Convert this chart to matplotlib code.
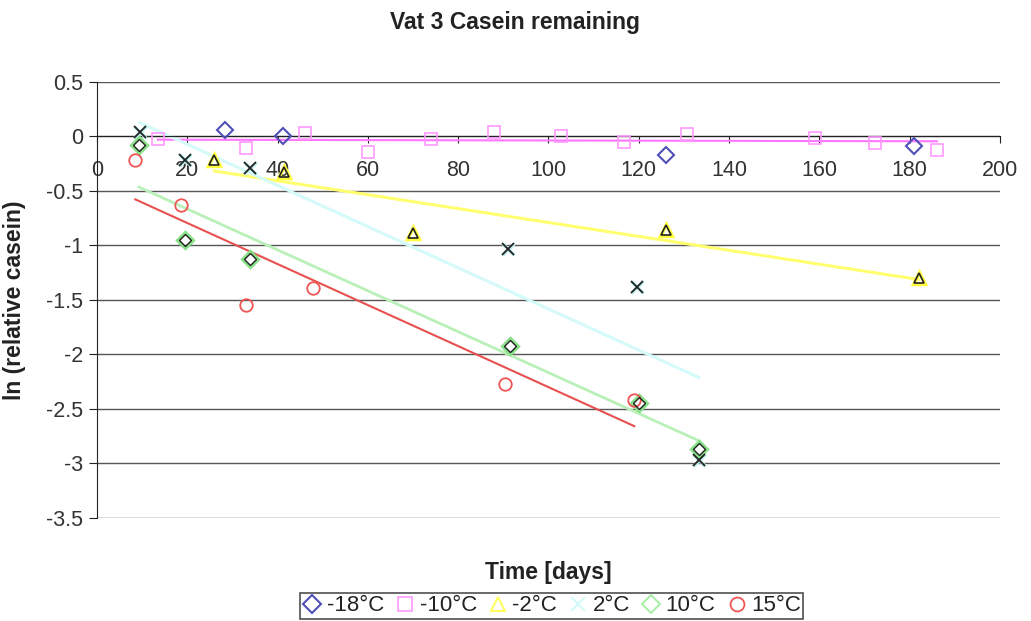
import numpy as np
import matplotlib
matplotlib.use("Agg")
import matplotlib.pyplot as plt
from matplotlib.lines import Line2D

plt.rcParams['font.family'] = ['Liberation Sans', 'DejaVu Sans']

# Storage time (days) and ln(relative casein) for each temperature
t_m18 = [28.4, 41.3, 126, 181]
y_m18 = [0.06, 0.00, -0.17, -0.09]

t_m10 = [13.5, 33, 46, 60, 74, 88, 102.7, 116.7, 130.7, 159, 172.4, 186]
y_m10 = [-0.02, -0.11, 0.03, -0.14, -0.02, 0.04, 0.0, -0.05, 0.02, -0.01, -0.06, -0.12]

t_m2 = [26, 41.5, 70, 126, 182]
y_m2 = [-0.22, -0.33, -0.89, -0.86, -1.30]

t_p2 = [9.5, 19.5, 34, 91, 119.6, 133.3]
y_p2 = [0.04, -0.22, -0.29, -1.03, -1.38, -2.97]

t_p10 = [9.3, 19.5, 34, 91.5, 120, 133.3]
y_p10 = [-0.08, -0.95, -1.12, -1.92, -2.45, -2.87]

t_p15 = [8.5, 18.7, 33, 47.8, 90.4, 119]
y_p15 = [-0.22, -0.63, -1.55, -1.39, -2.27, -2.42]

labels = ['-18°C', '-10°C', '-2°C', '2°C', '10°C', '15°C']
x_ticks = [0, 20, 40, 60, 80, 100, 120, 140, 160, 180, 200]
y_ticks = [0.5, 0, -0.5, -1, -1.5, -2, -2.5, -3, -3.5]

fig = plt.figure(figsize=(10.31, 6.21), dpi=100)
ax = fig.add_axes([0.094, 0.166, 0.876, 0.702])

ax.set_xlim(0, 200)
ax.set_ylim(-3.5, 0.5)

# horizontal gridlines
for yv in y_ticks:
    ax.axhline(yv, color='#555555', lw=1.0, zorder=1)

ax.spines['top'].set_visible(False)
ax.spines['right'].set_visible(False)
ax.spines['bottom'].set_position(('data', 0))
ax.spines['left'].set_color('#222222')
ax.spines['bottom'].set_color('#222222')

ax.set_xticks(x_ticks)
ax.set_yticks(y_ticks)
ax.set_yticklabels([('%g' % v) for v in y_ticks])
ax.tick_params(axis='x', direction='out', length=5, pad=12, labelsize=15.5,
               labelcolor='#333333', color='#222222')
ax.tick_params(axis='y', direction='out', length=6, pad=4, labelsize=15.5,
               labelcolor='#333333', color='#222222')

# linear trend lines over each series' own time range
def trend(t, y, color, lw=1.8):
    k, b = np.polyfit(t, y, 1)
    xs = np.array([min(t), max(t)])
    ax.plot(xs, k * xs + b, color=color, lw=lw, zorder=2)

trend(t_m10, y_m10, '#ff77ff', 1.5)
trend(t_m2, y_m2, '#ffff70', 2.2)
trend(t_p2, y_p2, '#d4fafa', 2.2)
trend(t_p10, y_p10, '#b8f0b8', 2.0)
trend(t_p15, y_p15, '#e85050', 1.5)

ms = 9
ax.plot(t_m18, y_m18, ls='none', marker='D', ms=8, mfc='none', mec='#5050b8', mew=1.5, zorder=4)
ax.plot(t_m10, y_m10, ls='none', marker='s', ms=ms, mfc='none', mec='#ff99ff', mew=1.2, zorder=4)
ax.plot(t_m2, y_m2, ls='none', marker='^', ms=ms, mfc='none', mec='#ffff40', mew=2.5, zorder=4)
ax.plot(t_m2, y_m2, ls='none', marker='^', ms=ms - 2, mfc='none', mec='#222222', mew=1.2, zorder=5)
ax.plot(t_p2, y_p2, ls='none', marker='x', ms=ms, mec='#bff0f0', mew=2.5, zorder=4)
ax.plot(t_p2, y_p2, ls='none', marker='x', ms=ms - 1, mec='#222222', mew=1.3, zorder=5)
ax.plot(t_p10, y_p10, ls='none', marker='D', ms=8, mfc='none', mec='#88e088', mew=2.3, zorder=4)
ax.plot(t_p10, y_p10, ls='none', marker='D', ms=6.5, mfc='none', mec='#222222', mew=1.0, zorder=5)
ax.plot(t_p15, y_p15, ls='none', marker='o', ms=ms, mfc='none', mec='#ee5555', mew=1.3, zorder=4)

fig.text(0.5, 0.963, 'Vat 3 Casein remaining', ha='center', va='center',
         fontsize=16.5, fontweight='bold', color='#222222')
ax.set_xlabel('Time [days]', fontsize=16.5, fontweight='bold', color='#222222')
ax.xaxis.set_label_coords(0.5, -0.098)
ax.set_ylabel('ln (relative casein)', fontsize=16.5, fontweight='bold', color='#222222')
ax.yaxis.set_label_coords(-0.078, 0.5)

handles = [
    Line2D([], [], ls='none', marker='D', ms=9, mfc='none', mec='#5050b8', mew=1.5),
    Line2D([], [], ls='none', marker='s', ms=10, mfc='none', mec='#ff99ff', mew=1.2),
    Line2D([], [], ls='none', marker='^', ms=10, mfc='none', mec='#ffff60', mew=1.5),
    Line2D([], [], ls='none', marker='x', ms=10, mec='#d4fafa', mew=1.5),
    Line2D([], [], ls='none', marker='D', ms=9, mfc='none', mec='#aaeeaa', mew=1.5),
    Line2D([], [], ls='none', marker='o', ms=10, mfc='none', mec='#ee5555', mew=1.3),
]
leg = fig.legend(handles, labels, loc='center', bbox_to_anchor=(0.535, 0.0245), ncol=6,
                 fontsize=16, frameon=True, fancybox=False, edgecolor='#222222',
                 handlelength=0.9, handletextpad=0.2, columnspacing=0.5,
                 borderpad=0.1, borderaxespad=0)
leg.get_frame().set_linewidth(1.2)
for txt in leg.get_texts():
    txt.set_color('#222222')

fig.savefig('out.png', dpi=100, facecolor='white')
